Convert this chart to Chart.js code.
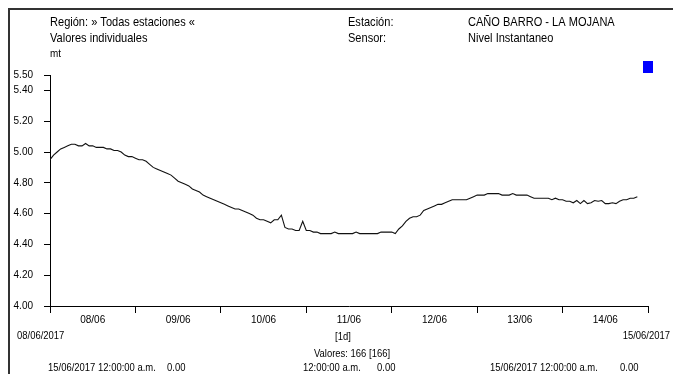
<!DOCTYPE html>
<html>
<head>
<meta charset="utf-8">
<script src="https://cdn.jsdelivr.net/npm/chart.js@4.4.1/dist/chart.umd.min.js"></script>
<style>
html,body{margin:0;padding:0;background:#fff;}
canvas{display:block;}
</style>
</head>
<body>
<canvas id="c" width="673" height="374"></canvas>
<script>
// Day labels (centered within each day)
const dayLabels = ['08/06','09/06','10/06','11/06','12/06','13/06','14/06'];
// Y axis tick values
const yTicks = [4.00, 4.20, 4.40, 4.60, 4.80, 5.00, 5.20, 5.40, 5.50];
// Hourly water level (mt), 166 values starting 08/06/2017 00:00
const levels = [
  4.95, 4.98, 5.00, 5.02, 5.03, 5.04, 5.05, 5.05, 5.04, 5.04, 5.055, 5.04,
  5.04, 5.03, 5.03, 5.03, 5.02, 5.02, 5.01, 5.01, 5.00, 4.98, 4.97, 4.97,
  4.96, 4.95, 4.95, 4.94, 4.92, 4.90, 4.89, 4.88, 4.87, 4.86, 4.85, 4.83,
  4.81, 4.80, 4.79, 4.78, 4.76, 4.75, 4.74, 4.72, 4.71, 4.70, 4.69, 4.68,
  4.67, 4.66, 4.65, 4.64, 4.63, 4.63, 4.62, 4.61, 4.60, 4.59, 4.57, 4.56,
  4.56, 4.55, 4.54, 4.56, 4.56, 4.59, 4.51, 4.50, 4.50, 4.49, 4.49, 4.55,
  4.49, 4.49, 4.48, 4.48, 4.47, 4.47, 4.47, 4.47, 4.48, 4.47, 4.47, 4.47,
  4.47, 4.47, 4.48, 4.47, 4.47, 4.47, 4.47, 4.47, 4.47, 4.48, 4.48, 4.48,
  4.48, 4.47, 4.50, 4.52, 4.55, 4.57, 4.58, 4.58, 4.59, 4.62, 4.63, 4.64,
  4.65, 4.66, 4.66, 4.67, 4.68, 4.69, 4.69, 4.69, 4.69, 4.69, 4.70, 4.71,
  4.72, 4.72, 4.72, 4.73, 4.73, 4.73, 4.73, 4.72, 4.72, 4.72, 4.73, 4.72,
  4.72, 4.72, 4.72, 4.71, 4.70, 4.70, 4.70, 4.70, 4.70, 4.69, 4.70, 4.69,
  4.69, 4.68, 4.68, 4.67, 4.685, 4.665, 4.685, 4.665, 4.67, 4.685, 4.68, 4.685,
  4.665, 4.665, 4.67, 4.665, 4.68, 4.69, 4.69, 4.70, 4.70, 4.71
];

const FONT = "'Liberation Sans', Arial, sans-serif";

const points = levels.map((v, i) => ({x: i, y: v}));

function narrowText(ctx, text, x, y, align, size, sx) {
  ctx.save();
  ctx.font = size + 'px ' + FONT;
  ctx.translate(x, y);
  ctx.scale(sx, 1);
  ctx.textAlign = align;
  ctx.textBaseline = 'alphabetic';
  ctx.fillText(text, 0, 0);
  ctx.restore();
}

const decor = {
  id: 'decor',
  beforeDraw(chart) {
    const ctx = chart.ctx;
    ctx.save();
    ctx.fillStyle = '#fff';
    ctx.fillRect(0, 0, chart.width, chart.height);
    ctx.restore();
  },
  afterDraw(chart) {
    const ctx = chart.ctx;
    ctx.save();
    // frame (top and left edges)
    ctx.fillStyle = '#333';
    ctx.fillRect(8, 8, 665, 2);
    ctx.fillRect(8, 8, 2, 366);
    ctx.fillStyle = '#000';
    const H = 13, HS = 0.85;
    narrowText(ctx, 'Región: » Todas estaciones «', 50, 26, 'left', H, HS);
    narrowText(ctx, 'Valores individuales', 50, 42, 'left', H, HS);
    narrowText(ctx, 'Estación:', 348, 26, 'left', H, HS);
    narrowText(ctx, 'Sensor:', 348, 42, 'left', H, HS);
    narrowText(ctx, 'CAÑO BARRO - LA MOJANA', 468, 26, 'left', H, HS);
    narrowText(ctx, 'Nivel Instantaneo', 468, 42, 'left', H, HS);
    narrowText(ctx, 'mt', 50, 57, 'left', 11, 0.9);
    // legend marker
    ctx.fillStyle = '#0000ff';
    ctx.fillRect(643, 61, 10, 12);
    // footer
    ctx.fillStyle = '#000';
    const F = 11, FS = 0.86;
    narrowText(ctx, '08/06/2017', 17, 339, 'left', F, FS);
    narrowText(ctx, '15/06/2017', 670, 339, 'right', F, FS);
    narrowText(ctx, '[1d]', 343, 340, 'center', F, FS);
    narrowText(ctx, 'Valores: 166 [166]', 352, 357, 'center', F, FS);
    narrowText(ctx, '15/06/2017 12:00:00 a.m.', 48, 371, 'left', F, FS);
    narrowText(ctx, '0.00', 167, 371, 'left', F, FS);
    narrowText(ctx, '12:00:00 a.m.', 303, 371, 'left', F, FS);
    narrowText(ctx, '0.00', 377, 371, 'left', F, FS);
    narrowText(ctx, '15/06/2017 12:00:00 a.m.', 490, 371, 'left', F, FS);
    narrowText(ctx, '0.00', 620, 371, 'left', F, FS);
    ctx.restore();
  }
};

new Chart(document.getElementById('c'), {
  type: 'line',
  data: {
    datasets: [{
      data: points,
      borderColor: '#111',
      borderWidth: 1.1,
      pointRadius: 0,
      tension: 0,
      fill: false
    }]
  },
  options: {
    responsive: false,
    animation: false,
    devicePixelRatio: 1,
    layout: {padding: {left: 0, right: 25, top: 75, bottom: 0}},
    plugins: {legend: {display: false}, tooltip: {enabled: false}},
    scales: {
      x: {
        type: 'linear',
        min: 0,
        max: 168,
        afterBuildTicks(scale) {
          const t = [];
          for (let d = 0; d <= dayLabels.length; d++) {
            t.push({value: d * 24});
            if (d < dayLabels.length) t.push({value: d * 24 + 12});
          }
          scale.ticks = t;
        },
        afterFit(scale) { scale.height = 68; },
        ticks: {
          autoSkip: false,
          maxRotation: 0,
          padding: 1,
          color: '#000',
          font: {family: FONT, size: 10},
          callback: (v) => (v % 24 === 12 ? dayLabels[(v - 12) / 24] : '')
        },
        grid: {
          drawOnChartArea: false,
          drawTicks: true,
          tickLength: 7,
          tickWidth: 1,
          tickColor: (c) => (c.tick && c.tick.value % 24 === 0 ? '#000' : 'rgba(0,0,0,0)')
        },
        border: {display: true, color: '#000', width: 1}
      },
      y: {
        type: 'linear',
        min: 4.0,
        max: 5.5,
        afterBuildTicks(scale) {
          scale.ticks = yTicks.map(v => ({value: v}));
        },
        afterFit(scale) { scale.width = 50; },
        ticks: {
          autoSkip: false,
          padding: 11,
          color: '#000',
          font: {family: FONT, size: 10},
          callback: (v) => Number(v).toFixed(2)
        },
        grid: {
          drawOnChartArea: false,
          drawTicks: true,
          tickLength: 6,
          tickWidth: 1,
          tickColor: '#000'
        },
        border: {display: true, color: '#000', width: 1}
      }
    }
  },
  plugins: [decor]
});
</script>
</body>
</html>
